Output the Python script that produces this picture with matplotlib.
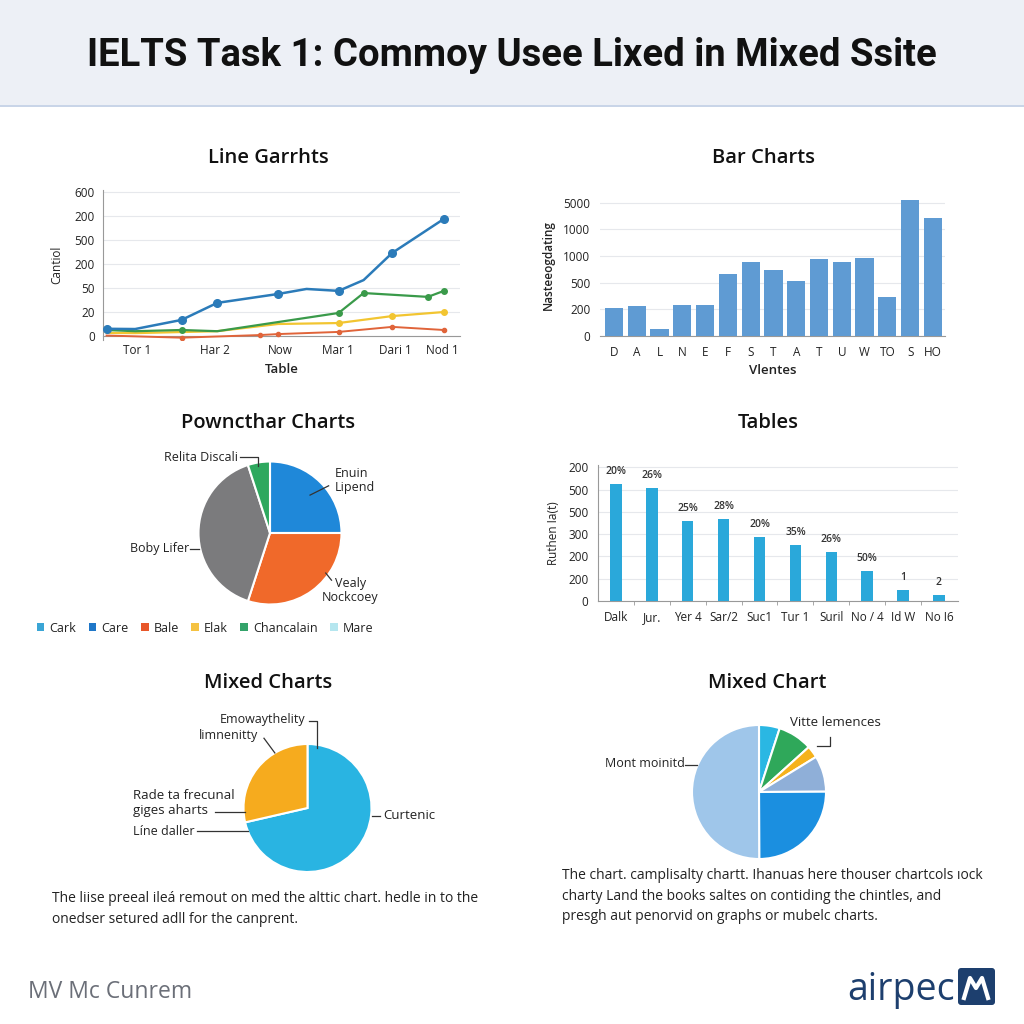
import matplotlib
matplotlib.use("Agg")
import matplotlib.pyplot as plt
from matplotlib.patches import Rectangle, FancyBboxPatch, Patch
import numpy as np

plt.rcParams["font.family"] = ["Open Sans", "DejaVu Sans"]

W = H = 1024

# ---- data ----
title = "IELTS Task 1: Commoy Usee Lixed in Mixed Ssite"

# line chart (y in tick-slot units, axis labels are not monotonic)
line_xticks = [0.95, 3.14, 4.96, 6.58, 8.18, 9.52]
line_xlabels = ["Tor 1", "Har 2", "Now", "Mar 1", "Dari 1", "Nod 1"]
line_ylabels = ["0", "20", "50", "200", "500", "200", "600"]
blue_x = [0.1, 0.9, 2.2, 3.2, 4.9, 5.7, 6.6, 7.3, 8.1, 9.55]
blue_y = [0.30, 0.29, 0.67, 1.38, 1.75, 1.96, 1.88, 2.33, 3.46, 4.88]
blue_marks = [0, 2, 3, 4, 6, 8, 9]
green_x = [0.1, 0.9, 2.2, 3.2, 4.9, 6.6, 7.3, 9.1, 9.55]
green_y = [0.25, 0.20, 0.25, 0.20, 0.58, 0.96, 1.79, 1.63, 1.88]
green_marks = [2, 5, 6, 7, 8]
yellow_x = [0.1, 0.9, 3.2, 4.9, 6.6, 8.1, 9.55]
yellow_y = [0.13, 0.12, 0.20, 0.50, 0.54, 0.83, 1.00]
yellow_marks = [4, 5, 6]
red_x = [0.1, 2.2, 4.4, 4.9, 6.6, 8.1, 9.55]
red_y = [0.02, -0.07, 0.04, 0.08, 0.17, 0.38, 0.25]
red_marks = [1, 2, 3, 4, 5, 6]

# bar chart
bar_cats = ["D", "A", "L", "N", "E", "F", "S", "T", "A", "T", "U", "W", "TO", "S", "HO"]
bar_vals = [1.06, 1.14, 0.25, 1.17, 1.17, 2.33, 2.76, 2.47, 2.07, 2.90, 2.76, 2.92, 1.45, 5.09, 4.42]
bar_ylabels = ["0", "200", "500", "1000", "1000", "5000"]

# first pie
pie1_vals = [25, 30, 40, 5]
pie1_colors = ["#1f88d9", "#f0692a", "#7b7b7d", "#2ea85e"]
legend_names = ["Cark", "Care", "Bale", "Elak", "Chancalain", "Mare"]
legend_colors = ["#3aa5d5", "#1f77c8", "#e8572a", "#f5c242", "#33a36a", "#b5e6ef"]

# tables chart
tab_cats = ["Dalk", "Jur.", "Yer 4", "Sar/2", "Suc1", "Tur 1", "Suril", "No / 4", "Id W", "No I6"]
tab_vals = [5.27, 5.09, 3.57, 3.69, 2.88, 2.52, 2.19, 1.34, 0.48, 0.27]
tab_tags = ["20%", "26%", "25%", "28%", "20%", "35%", "26%", "50%", "1", "2"]
tab_ylabels = ["0", "200", "200", "300", "500", "500", "200"]

# mixed pies
pie2_vals = [71.4, 28.6]
pie2_colors = ["#29b4e2", "#f6ab1e"]
pie3_vals = [5, 8.3, 2.9, 8.7, 25, 50]
pie3_colors = ["#2ab7e3", "#2fa85a", "#f5b21c", "#8fafd8", "#1b8fe0", "#9fc6ea"]

cap_left = ("The liise preeal ileá remout on med the alttic chart. hedle in to the\n"
            "onedser setured adll for the canprent.")
cap_right = ("The chart. camplisalty chartt. Ihanuas here thouser chartcols ıock\n"
             "charty Land the books saltes on contiding the chintles, and\n"
             "presgh aut penorvid on graphs or mubelc charts.")

TXT = "#222222"
GRID = "#e6e8ec"


def ax_px(fig, left, top, right, bottom):
    return fig.add_axes((left / W, 1 - bottom / H, (right - left) / W, (bottom - top) / H))


def fy(py):
    return 1 - py / H


fig = plt.figure(figsize=(10.24, 10.24), dpi=100)
fig.patch.set_facecolor("white")

# header band
fig.patches.append(Rectangle((0, fy(105)), 1, 105 / H, transform=fig.transFigure,
                             facecolor="#edf0f6", edgecolor="none", zorder=0))
fig.patches.append(Rectangle((0, fy(107)), 1, 2 / H, transform=fig.transFigure,
                             facecolor="#c9d5e8", edgecolor="none", zorder=0))
fig.text(0.5, fy(55), title, ha="center", va="center", fontsize=27.5,
         fontweight="bold", color="#111111", family=["Roboto", "DejaVu Sans"])

# section titles
for x, y, s in [(268, 158, "Line Garrhts"), (763, 158, "Bar Charts"),
                (268, 423, "Powncthar Charts"), (768, 423, "Tables"),
                (268, 683, "Mixed Charts"), (767, 683, "Mixed Chart")]:
    fig.text(x / W, fy(y), s, ha="center", va="center", fontsize=14.5,
             fontweight="semibold", color="#111111")

# ---- line chart ----
ax = ax_px(fig, 103, 189.6, 460, 339.6)
ax.set_xlim(0, 10)
ax.set_ylim(-0.15, 6.1)
for xs, ys, mk, c, lw, ms in [(red_x, red_y, red_marks, "#e0643a", 1.4, 3),
                              (yellow_x, yellow_y, yellow_marks, "#f2c531", 1.6, 4),
                              (green_x, green_y, green_marks, "#3a9a4a", 1.6, 4),
                              (blue_x, blue_y, blue_marks, "#2b7bb9", 1.8, 5.5)]:
    ax.plot(xs, ys, color=c, lw=lw, marker="o", markevery=mk, ms=ms, zorder=3)
ax.set_yticks(range(len(line_ylabels)))
ax.set_yticklabels(line_ylabels)
ax.set_xticks(line_xticks)
ax.set_xticklabels(line_xlabels)
ax.tick_params(length=0, labelsize=8.5, colors=TXT, pad=6)
ax.yaxis.grid(True, color=GRID, lw=0.8)
ax.set_axisbelow(True)
for s in ["top", "right"]:
    ax.spines[s].set_visible(False)
ax.spines["bottom"].set_position(("data", 0))
ax.spines["left"].set_color("#999999")
ax.spines["bottom"].set_color("#999999")
ax.set_xlabel("Table", fontsize=9.5, fontweight="semibold", color=TXT, labelpad=4)
ax.set_ylabel("Cantiol", fontsize=8.5, color=TXT, labelpad=8)

# ---- bar chart ----
ax = ax_px(fig, 600, 194.5, 945, 336)
xb = np.arange(len(bar_cats))
ax.bar(xb, bar_vals, width=0.8, color="#5f9bd3", zorder=3)
ax.set_xlim(-0.61, 14.53)
ax.set_ylim(0, 5.3)
ax.set_yticks(range(len(bar_ylabels)))
ax.set_yticklabels(bar_ylabels)
ax.set_xticks(xb)
ax.set_xticklabels(bar_cats)
ax.tick_params(length=0, labelsize=8.5, colors=TXT, pad=7)
ax.yaxis.grid(True, color=GRID, lw=0.8)
for s in ["top", "right", "left"]:
    ax.spines[s].set_visible(False)
ax.spines["bottom"].set_color("#999999")
ax.set_xlabel("Vlentes", fontsize=9.5, fontweight="semibold", color=TXT, labelpad=4)
ax.set_ylabel("Nasteeogdating", fontsize=8.5, fontweight="semibold", color=TXT, labelpad=6)

# ---- first pie ----
cx, cy, r = 270, 533, 71.5
ax = ax_px(fig, cx - r, cy - r, cx + r, cy + r)
ax.pie(pie1_vals, colors=pie1_colors, startangle=90, counterclock=False, radius=1,
       wedgeprops=dict(edgecolor="white", linewidth=1.5))
ax.set_xlim(-1, 1)
ax.set_ylim(-1, 1)
ax.set_aspect("equal")
ax.axis("off")
lk = dict(color="#333333", lw=0.9, clip_on=False)
ax.plot([-0.42, -0.17, -0.17], [1.06, 1.06, 0.94], **lk)
ax.text(-0.45, 1.06, "Relita Discali", ha="right", va="center", fontsize=9, color=TXT)
ax.plot([0.56, 0.82], [0.53, 0.66], **lk)
ax.text(0.91, 0.74, "Enuin\nLipend", ha="left", va="center", fontsize=9, color=TXT,
        linespacing=1.1)
ax.plot([-1.12, -1.0], [-0.22, -0.22], **lk)
ax.text(-1.13, -0.22, "Boby Lifer", ha="right", va="center", fontsize=9, color=TXT)
ax.plot([0.78, 0.86], [-0.56, -0.66], **lk)
ax.text(1.12, -0.80, "Vealy\nNockcoey", ha="center", va="center", fontsize=9, color=TXT,
        linespacing=1.1)
handles = [Patch(facecolor=c, edgecolor="none") for c in legend_colors]
fig.legend(handles, legend_names, loc="center", bbox_to_anchor=(205 / W, fy(628)),
           ncol=6, frameon=False, fontsize=9, handlelength=0.6, handleheight=0.6,
           handletextpad=0.4, columnspacing=1.0, labelcolor=TXT)

# ---- tables ----
ax = ax_px(fig, 598, 465, 958, 601)
xt = np.arange(len(tab_cats))
bars = ax.bar(xt, tab_vals, width=0.32, color="#2aa8da", zorder=3)
for rect, tag in zip(bars, tab_tags):
    ax.annotate(tag, (rect.get_x() + rect.get_width() / 2, rect.get_height()),
                xytext=(0, 5), textcoords="offset points", ha="center", va="bottom",
                fontsize=7.5, fontweight="semibold", color="#333333")
ax.set_xlim(-0.5, 9.53)
ax.set_ylim(0, 6.1)
ax.set_yticks(range(len(tab_ylabels)))
ax.set_yticklabels(tab_ylabels)
ax.set_xticks(xt)
ax.set_xticklabels(tab_cats)
ax.set_xticks(xt[:-1] + 0.5, minor=True)
ax.tick_params(axis="both", which="major", length=0, labelsize=8.5, colors=TXT, pad=7)
ax.tick_params(axis="x", which="minor", length=3, color="#999999")
ax.yaxis.grid(True, color=GRID, lw=0.8)
for s in ["top", "right"]:
    ax.spines[s].set_visible(False)
ax.spines["left"].set_color("#999999")
ax.spines["bottom"].set_color("#999999")
ax.set_ylabel("Ruthen Ia(t)", fontsize=8.5, color=TXT, labelpad=6)

# ---- mixed pie left ----
cx, cy, r = 307.5, 808, 64
ax = ax_px(fig, cx - r, cy - r, cx + r, cy + r)
ax.pie(pie2_vals, colors=pie2_colors, startangle=90, counterclock=False, radius=1,
       wedgeprops=dict(edgecolor="white", linewidth=1.5))
ax.set_xlim(-1, 1)
ax.set_ylim(-1, 1)
ax.set_aspect("equal")
ax.axis("off")
ax.plot([0.02, 0.15, 0.15], [1.36, 1.36, 0.94], **lk)
ax.text(-0.04, 1.375, "Emowaythelity", ha="right", va="center", fontsize=9, color=TXT)
ax.plot([-0.68, -0.51], [1.09, 0.86], **lk)
ax.text(-0.77, 1.125, "limnenitty", ha="right", va="center", fontsize=9, color=TXT)
ax.plot([-1.44, -0.98], [-0.06, -0.06], **lk)
ax.text(-2.72, 0.08, "Rade ta frecunal\ngiges aharts", ha="left", va="center",
        fontsize=9.5, color=TXT, linespacing=1.15)
ax.plot([-1.73, -0.93], [-0.36, -0.36], **lk)
ax.text(-2.72, -0.36, "Líne daller", ha="left", va="center", fontsize=9, color=TXT)
ax.plot([1.0, 1.13], [-0.12, -0.12], **lk)
ax.text(1.18, -0.12, "Curtenic", ha="left", va="center", fontsize=9.5, color=TXT)
fig.text(52 / W, fy(909), cap_left, ha="left", va="center", fontsize=10, color=TXT,
         linespacing=1.5)

# ---- mixed pie right ----
cx, cy, r = 759, 792, 67
ax = ax_px(fig, cx - r, cy - r, cx + r, cy + r)
ax.pie(pie3_vals, colors=pie3_colors, startangle=90, counterclock=False, radius=1,
       wedgeprops=dict(edgecolor="white", linewidth=1.5))
ax.set_xlim(-1, 1)
ax.set_ylim(-1, 1)
ax.set_aspect("equal")
ax.axis("off")
ax.plot([1.06, 1.06, 0.87], [0.82, 0.69, 0.69], **lk)
ax.text(0.46, 1.03, "Vitte lemences", ha="left", va="center", fontsize=9.5, color=TXT)
ax.plot([-1.1, -0.92], [0.40, 0.40], **lk)
ax.text(-1.1, 0.43, "Mont moinitd", ha="right", va="center", fontsize=9, color=TXT)
fig.text(562 / W, fy(896), cap_right, ha="left", va="center", fontsize=10, color=TXT,
         linespacing=1.5)

# ---- footer ----
fig.text(28 / W, fy(992), "MV Mc Cunrem", ha="left", va="center", fontsize=16.5,
         color="#6b6f78")
fig.text(955 / W, fy(990), "airpec", ha="right", va="center", fontsize=27,
         fontweight="medium", color="#1d3f6e")
fig.patches.append(FancyBboxPatch((958 / W, fy(1005)), 37 / W, 37 / H,
                                  boxstyle="round,pad=0,rounding_size=0.003",
                                  transform=fig.transFigure, facecolor="#1d3f6e",
                                  edgecolor="none"))
lx = np.array([964, 970, 976, 982, 988]) / W
ly = fy(np.array([998, 978, 988, 978, 998]))
fig.lines.append(plt.Line2D(lx, ly, transform=fig.transFigure, color="white", lw=3))

fig.savefig("out.png", dpi=100, facecolor="white")
